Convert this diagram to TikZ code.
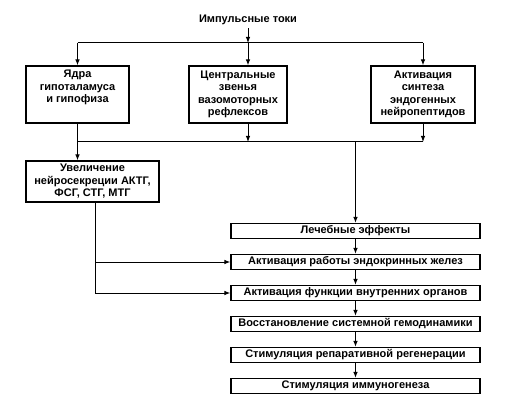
\documentclass[tikz,border=0pt]{standalone}
\usepackage{fontspec}
\setmainfont{Liberation Sans}
\usetikzlibrary{arrows.meta}
\tikzset{
  link/.style={
    line width=1pt,
    line cap=butt,
    line join=miter
  },
  link-arrow/.style={
    link,
    -{Latex[length=6pt,width=4.5pt]}
  },
  box-top/.style={rectangle, draw=black, line width=1.1pt, align=center,
    minimum height=57pt, inner sep=1pt},
  box-wide/.style={rectangle, draw=black, line width=1.1pt, align=center,
    minimum width=249pt, minimum height=15pt, inner sep=0pt}
}

\begin{document}
\begin{tikzpicture}[x=1pt, y=-1pt, font=\fontsize{11}{12.5}\selectfont\bfseries]
  \useasboundingbox (0,0) rectangle (506,406);

  % Source of the impulses
  \node (Impulse) at (248,20) {Импульсные токи};
  \coordinate (Split) at (248,43);
  \coordinate (Merge) at (248,142);

  % Upper row of boxes
  \node[box-top, minimum width=103pt] (Nuclei) at (77.5,94.5)
    {Ядра\\гипоталамуса\\и гипофиза\\\strut};
  \node[box-top, minimum width=98pt] (Reflex) at (238,94.5)
    {Центральные\\звенья\\вазомоторных\\рефлексов};
  \node[box-top, minimum width=104pt] (Peptide) at (423,94.5)
    {Активация\\синтеза\\эндогенных\\нейропептидов};

  % Left box
  \node[box-top, minimum width=133pt, minimum height=41pt] (Secretion) at (92.5,181.5)
    {Увеличение\\нейросекреции АКТГ,\\ФСГ, СТГ, МТГ};

  % Column of effects
  \node[box-wide] (Effects)   at (355.5,231) {Лечебные эффекты};
  \node[box-wide] (Endocrine) at (355.5,262) {Активация работы эндокринных желез};
  \node[box-wide] (Organs)    at (355.5,293) {Активация функции внутренних органов};
  \node[box-wide] (Hemo)      at (355.5,324) {Восстановление системной гемодинамики};
  \node[box-wide] (Regen)     at (355.5,355) {Стимуляция репаративной регенерации};
  \node[box-wide] (Immuno)    at (355.5,386) {Стимуляция иммуногенеза};

  % Upper fork
  \draw[link] (Nuclei.north |- Split) -- (Peptide.north |- Split);
  \draw[link-arrow] (Impulse.south) -- (Split);
  \draw[link-arrow] (Nuclei.north |- Split) -- (Nuclei.north);
  \draw[link-arrow] (Split) -- (Split |- Reflex.north);
  \draw[link-arrow] (Peptide.north |- Split) -- (Peptide.north);

  % Lower merge
  \draw[link] (Nuclei.south |- Merge) -- (Peptide.south |- Merge);
  \draw[link-arrow] (Merge |- Reflex.south) -- (Merge);
  \draw[link-arrow] (Peptide.south) -- (Peptide.south |- Merge);
  \draw[link-arrow] (Nuclei.south) -- (Nuclei.south |- Secretion.north);
  \draw[link-arrow] (Effects.north |- Merge) -- (Effects.north);

  % From the secretion box to the glands and organs
  \coordinate (Drop) at (95,202);
  \draw[link-arrow] (Drop) |- (Endocrine.west);
  \draw[link-arrow] (Drop) |- (Organs.west);

  % Chain of effects
  \draw[link-arrow] (Effects) -- (Endocrine);
  \draw[link-arrow] (Endocrine) -- (Organs);
  \draw[link-arrow] (Organs) -- (Hemo);
  \draw[link-arrow] (Hemo) -- (Regen);
  \draw[link-arrow] (Regen) -- (Immuno);

\end{tikzpicture}
\end{document}
